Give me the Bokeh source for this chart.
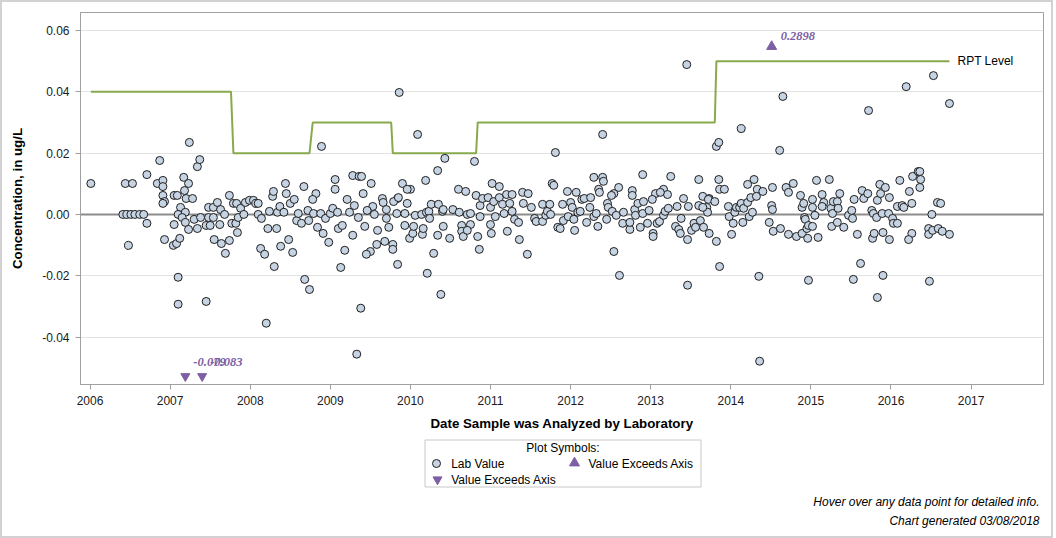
import numpy as np
from bokeh.plotting import figure
from bokeh.models import Range1d, FixedTicker, PrintfTickFormatter, Span
from bokeh.layouts import column
from bokeh.embed import file_html
from bokeh.resources import INLINE
from bokeh.core.properties import value

# ---------------------------------------------------------------- data
# Lab results (decimal year of analysis, concentration in ug/L)
dates_2006_2009 = [
    2006.01, 2006.41, 2006.46, 2006.51, 2006.56, 2006.62, 2006.67, 2006.44, 2006.53, 2006.48,
    2006.71, 2006.71, 2006.87, 2006.84, 2006.91, 2006.91, 2006.91, 2006.93, 2006.91, 2007.05,
    2007.09, 2007.17, 2007.18, 2007.23, 2007.24, 2007.34, 2007.37, 2007.20, 2007.28, 2007.13,
    2007.10, 2007.19, 2007.05, 2007.15, 2007.19, 2007.23, 2007.30, 2007.34, 2007.38, 2007.48,
    2007.45, 2007.50, 2007.54, 2007.48, 2007.54, 2007.59, 2007.55, 2007.63, 2007.64, 2007.69,
    2007.74, 2007.62, 2007.68, 2007.74, 2007.79, 2007.83, 2007.77, 2007.82, 2007.84, 2007.85,
    2007.88, 2007.92, 2007.94, 2007.99, 2008.04, 2008.07, 2008.10, 2006.93, 2007.04, 2007.08,
    2007.12, 2007.10, 2007.10, 2007.45, 2008.20, 2008.10, 2008.14, 2008.13, 2008.18, 2008.22,
    2008.24, 2008.28, 2008.29, 2008.30, 2008.33, 2008.34, 2008.37, 2008.38, 2008.42, 2008.44,
    2008.45, 2008.48, 2008.50, 2008.53, 2008.55, 2008.58, 2008.60, 2008.64, 2008.67, 2008.68,
    2008.72, 2008.74, 2008.73, 2008.79, 2008.82, 2008.78, 2008.84, 2008.88, 2008.91, 2008.94,
    2008.98, 2009.00, 2009.03, 2009.06, 2009.06, 2009.09, 2009.10, 2009.13, 2009.15, 2009.18,
    2009.21, 2009.24, 2009.28, 2009.30, 2009.35, 2009.33, 2009.38, 2008.89, 2009.28, 2009.36,
]
conc_2006_2009 = [
    0.0101, 0, 0, 0, 0, 0, 0, 0.0101, 0.0101, -0.0101,
    -0.0029, 0.0130, 0.0176, 0.0101, 0.0111, 0.0091, 0.0062, 0.0042, 0.0036, 0.0062,
    0.0062, 0.0121, 0.0078, 0.0101, 0.0235, 0.0156, 0.0179, 0.0052, 0.0052, 0.0023,
    0, 0.0007, -0.0033, -0.0010, -0.0026, -0.0049, -0.0016, -0.0046, -0.0010, -0.0010,
    -0.0036, -0.0036, -0.0010, 0.0023, 0.0023, 0.0039, -0.0082, 0.0016, -0.0095, -0.0127,
    -0.0085, -0.0033, 0, 0.0062, 0.0036, 0.0036, -0.0029, -0.0029, -0.0059, -0.0010,
    0.0020, 0, 0.0039, 0.0046, 0.0046, 0.0036, 0.0036, -0.0082, -0.0101, -0.0095,
    -0.0078, -0.0205, -0.0293, -0.0284, -0.0355, 0, -0.0013, -0.0111, -0.0130, -0.0046,
    0.0010, 0.0059, 0.0075, -0.0170, -0.0046, 0.0007, 0.0026, -0.0104, 0.0007, 0.0101,
    0.0068, -0.0082, 0.0036, -0.0124, 0.0049, -0.0020, 0.0003, -0.0029, 0.0091, -0.0212,
    0.0013, -0.0245, -0.0020, 0.0003, 0.0068, 0.0049, -0.0042, 0.0003, -0.0062, -0.0013,
    -0.0091, 0.0003, 0.0020, 0.0082, 0.0114, 0.0007, -0.0046, -0.0173, -0.0036, -0.0117,
    0.0049, 0.0007, -0.0068, 0.0029, -0.0010, -0.0456, -0.0306, 0.0222, 0.0127, 0.0124,
]

dates_2009_2013 = [
    2009.86, 2010.09, 2010.43, 2010.34, 2010.19, 2009.90, 2010.00, 2009.96, 2009.51, 2009.39,
    2009.41, 2009.65, 2009.84, 2010.80, 2010.60, 2010.69, 2010.82, 2011.02, 2011.11, 2011.20,
    2011.27, 2011.40, 2011.47, 2011.77, 2011.79, 2011.81, 2011.96, 2012.07, 2012.29, 2012.40,
    2012.41, 2012.35, 2012.36, 2012.40, 2012.60, 2012.54, 2012.51, 2012.77, 2012.90, 2013.16,
    2013.06, 2013.21, 2013.25, 2013.45, 2013.60, 2013.65, 2013.82, 2013.85, 2013.85, 2013.41,
    2013.73, 2009.66, 2009.53, 2009.55, 2009.46, 2009.43, 2009.59, 2009.58, 2009.50, 2009.45,
    2009.70, 2009.70, 2009.73, 2009.68, 2009.78, 2009.78, 2009.79, 2009.85, 2009.83, 2009.84,
    2009.93, 2009.96, 2009.93, 2009.99, 2010.03, 2010.04, 2010.06, 2010.14, 2010.15, 2010.16,
    2010.20, 2010.23, 2010.24, 2010.26, 2010.35, 2010.34, 2010.29, 2010.21, 2010.38, 2010.40,
    2010.41, 2010.41, 2010.49, 2010.53, 2010.61, 2010.64, 2010.64, 2010.66, 2010.71, 2010.75,
    2010.75, 2010.71, 2010.84, 2010.86, 2010.87, 2010.87, 2010.90, 2010.97, 2011.00, 2011.00,
    2011.01, 2011.04, 2011.06, 2011.11, 2011.15, 2011.17, 2011.21, 2011.24, 2011.27, 2011.30,
    2011.35, 2011.36, 2011.41, 2011.46, 2011.51, 2011.55, 2011.57, 2011.65, 2011.65, 2011.69,
    2011.71, 2011.74, 2011.75, 2011.84, 2011.87, 2011.90, 2011.91, 2011.97, 2012.00, 2012.02,
    2012.04, 2012.05, 2012.09, 2012.12, 2012.14, 2012.17, 2012.20, 2012.24, 2012.25, 2012.29,
    2012.32, 2012.34, 2012.45, 2012.46, 2012.47, 2012.52, 2012.54, 2012.57, 2012.61, 2012.65,
    2012.66, 2012.74, 2012.74, 2012.77, 2012.80, 2012.81, 2012.84, 2012.87, 2012.90, 2012.91,
    2012.96, 2012.98, 2013.02, 2013.03, 2013.03, 2013.08, 2013.11, 2013.12, 2013.16, 2013.18,
    2013.22, 2013.31, 2013.33, 2013.35, 2013.37, 2013.38, 2013.46, 2013.46, 2013.47, 2013.51,
    2013.54, 2013.56, 2013.60, 2013.62, 2013.66, 2013.70, 2013.71, 2013.72, 2013.73, 2013.80,
    2013.82, 2013.86, 2013.86,
]
conc_2009_2013 = [
    0.0398, 0.0261, 0.0183, 0.0143, 0.0111, 0.0101, 0.0082, 0.0082, 0.0101, 0.0124,
    0.0068, 0.0052, 0.0052, 0.0173, 0.0082, 0.0075, 0.0062, 0.0101, 0.0091, 0.0065,
    0.0065, 0.0072, 0.0068, 0.0101, 0.0095, 0.0202, 0.0075, 0.0072, 0.0121, 0.0121,
    0.0108, 0.0082, 0.0072, 0.0261, 0.0088, 0.0068, 0.0062, 0.0078, 0.0130, 0.0082,
    0.0068, 0.0065, 0.0124, 0.0489, 0.0114, 0.0059, 0.0222, 0.0235, 0.0114, 0.0052,
    0.0052, 0.0039, 0.0026, 0, 0.0013, -0.0039, -0.0052, -0.0098, -0.0121, -0.0130,
    0.0016, -0.0013, -0.0042, -0.0088, -0.0098, -0.0114, 0.0042, 0.0055, 0.0003, -0.0163,
    0.0003, 0.0036, -0.0036, -0.0078, -0.0062, -0.0039, -0.0003, 0, -0.0065, -0.0046,
    0.0007, 0.0010, -0.0013, 0.0033, 0.0033, -0.0068, -0.0127, -0.0192, -0.0261, 0.0010,
    0.0016, -0.0039, -0.0078, 0.0016, 0.0007, -0.0036, -0.0055, -0.0072, 0, 0.0003,
    -0.0033, -0.0052, -0.0072, -0.0114, -0.0007, 0.0029, 0.0052, 0.0055, 0.0023, -0.0033,
    -0.0062, 0.0042, -0.0007, 0.0055, 0.0033, 0.0003, -0.0055, 0.0036, 0.0010, -0.0016,
    -0.0026, -0.0082, 0.0036, -0.0130, 0.0023, -0.0013, -0.0023, 0.0033, -0.0023, -0.0003,
    0.0010, 0.0033, 0, -0.0042, -0.0046, 0.0033, -0.0020, -0.0007, 0.0039, 0.0023,
    -0.0016, -0.0052, 0.0007, 0.0010, 0.0049, 0.0052, -0.0026, 0.0023, 0.0055, -0.0007,
    0.0003, -0.0039, -0.0016, 0.0036, 0.0023, 0.0010, -0.0121, -0.0003, -0.0199, -0.0029,
    0.0007, -0.0049, -0.0026, 0.0062, 0.0016, -0.0003, 0.0036, -0.0042, 0.0003, 0.0042,
    -0.0029, 0.0013, 0.0049, -0.0062, -0.0072, -0.0029, -0.0023, 0.0072, -0.0003, 0.0010,
    0.0020, -0.0039, 0.0026, -0.0049, -0.0062, -0.0013, -0.0082, -0.0231, 0.0026, -0.0052,
    -0.0029, -0.0042, 0.0029, -0.0020, -0.0042, 0.0023, 0.0007, 0.0049, -0.0062, 0.0042,
    -0.0088, -0.0170, 0.0082,
]

dates_2013_2016 = [
    2014.29, 2014.21, 2013.92, 2014.33, 2014.40, 2014.52, 2014.69, 2014.72, 2014.78, 2015.07,
    2015.23, 2013.65, 2013.97, 2013.98, 2014.01, 2014.03, 2014.05, 2014.07, 2014.11, 2014.13,
    2014.16, 2014.15, 2014.21, 2014.25, 2014.23, 2014.27, 2014.32, 2014.35, 2014.36, 2014.48,
    2014.51, 2014.52, 2014.53, 2014.62, 2014.72, 2014.82, 2014.87, 2014.89, 2014.91, 2014.89,
    2014.92, 2014.93, 2014.95, 2014.96, 2014.97, 2015.02, 2015.02, 2015.02, 2015.05, 2015.09,
    2014.97, 2015.14, 2015.16, 2015.14, 2015.25, 2015.27, 2015.26, 2015.28, 2015.33, 2015.34,
    2015.36, 2015.33, 2015.41, 2015.47, 2015.51, 2015.52, 2015.53, 2015.54, 2015.58, 2015.62,
    2015.64, 2015.66, 2015.71, 2015.76, 2015.78, 2015.82, 2015.83, 2015.86, 2015.87, 2015.89,
    2015.90, 2015.83, 2015.77, 2015.79, 2015.90, 2015.93, 2015.97, 2015.98, 2015.98, 2016.02,
    2016.03, 2016.08, 2016.08, 2016.11, 2016.14, 2016.16, 2016.23, 2016.26, 2016.26, 2016.22,
    2016.27, 2016.34, 2016.36, 2016.37, 2016.36, 2016.48, 2016.47, 2016.47, 2016.51, 2016.52,
    2016.58, 2016.62, 2016.59, 2016.64, 2016.73, 2014.13, 2014.65, 2015.72, 2016.19, 2016.53,
    2016.73, 2014.61,
]
conc_2013_2016 = [
    0.0114, 0.0098, 0.0082, 0.0082, 0.0075, 0.0088, 0.0088, 0.0072, 0.0101, 0.0111,
    0.0114, 0.0023, 0.0026, -0.0007, -0.0065, -0.0029, 0.0007, 0.0023, 0.0023, 0.0036,
    0.0020, -0.0026, 0.0039, 0.0055, -0.0007, 0.0007, 0.0059, -0.0202, -0.0479, -0.0026,
    0.0029, 0.0016, -0.0055, -0.0046, -0.0065, -0.0072, 0.0062, 0.0023, 0.0036, -0.0062,
    -0.0010, -0.0016, -0.0046, -0.0078, -0.0036, 0.0049, 0.0023, -0.0039, -0.0003, -0.0075,
    -0.0215, 0.0065, 0.0039, 0.0026, 0.0020, 0.0003, -0.0039, 0.0042, 0.0042, 0.0020,
    0.0068, -0.0026, -0.0042, -0.0003, 0.0013, -0.0013, -0.0212, 0.0049, -0.0065, -0.0160,
    0.0078, 0.0052, 0.0068, 0.0013, 0.0003, -0.0010, 0.0046, 0.0098, 0.0068, 0.0003,
    -0.0199, -0.0271, -0.0078, -0.0062, -0.0059, 0.0088, 0.0003, 0.0055, -0.0082, -0.0013,
    -0.0029, -0.0029, 0.0026, 0.0111, 0.0029, 0.0023, 0.0075, 0.0036, -0.0062, -0.0082,
    0.0124, 0.0140, 0.0140, 0.0114, 0.0088, -0.0218, -0.0046, -0.0065, 0, -0.0052,
    0.0039, 0.0036, -0.0046, -0.0055, -0.0065, 0.0280, 0.0385, 0.0339, 0.0417, 0.0453,
    0.0362, 0.0209,
]

# Reporting level (step changes over time)
rpt_dates = [2006.01, 2007.76, 2007.79, 2008.74, 2008.78, 2009.76,
             2009.78, 2010.82, 2010.84, 2013.80, 2013.82, 2016.73]
rpt_levels = [0.04, 0.04, 0.02, 0.02, 0.03, 0.03,
              0.02, 0.02, 0.03, 0.03, 0.05, 0.05]

# Results lying outside the plotted concentration range
high_dates = [2014.51]
high_values = [0.2898]
low_dates = [2007.19, 2007.40]
low_values = [-0.079, -0.083]

year_ticks = list(range(2006, 2018))
conc_ticks = [-0.04, -0.02, 0.0, 0.02, 0.04, 0.06]

# ---------------------------------------------------------------- style
SANS = "Liberation Sans"
SERIF = "Liberation Serif"
POINT_FILL = "#c6d3e3"
POINT_EDGE = "#1e1e1e"
RPT_GREEN = "#88a94c"
PURPLE = "#7d5fa3"
AXIS_GREY = "#a0a0a0"

Y_LO, Y_HI = -0.0555, 0.0659
X_LO, X_HI = 2005.881, 2017.904
HI_MARK_Y = 0.0548    # where off-scale highs are flagged
LO_MARK_Y = -0.0528   # where off-scale lows are flagged

W = 1049
H_MAIN = 434
H_FOOT = 100
BORDER_L, BORDER_R = 78, 8

dates = np.array(dates_2006_2009 + dates_2009_2013 + dates_2013_2016)
conc = np.array(conc_2006_2009 + conc_2009_2013 + conc_2013_2016)

# ---------------------------------------------------------------- main plot
p = figure(width=W, height=H_MAIN, output_backend="svg", toolbar_location=None,
           x_range=Range1d(X_LO, X_HI), y_range=Range1d(Y_LO, Y_HI),
           min_border_left=BORDER_L, min_border_right=BORDER_R, min_border_top=10,
           min_border_bottom=52)
p.background_fill_color = "white"
p.border_fill_color = "white"
p.outline_line_color = AXIS_GREY
p.outline_line_width = 1

p.xgrid.visible = False
p.ygrid.grid_line_color = "#e3e3e3"
p.ygrid.ticker = FixedTicker(ticks=conc_ticks)

p.xaxis.ticker = FixedTicker(ticks=year_ticks)
p.xaxis.formatter = PrintfTickFormatter(format="%d")
p.yaxis.ticker = FixedTicker(ticks=conc_ticks)
p.yaxis.formatter = PrintfTickFormatter(format="%.2f")
p.xaxis.axis_label = "Date Sample was Analyzed by Laboratory"
p.yaxis.axis_label = "Concentration, in ug/L"

for ax in (p.xaxis[0], p.yaxis[0]):
    ax.axis_line_color = AXIS_GREY
    ax.major_tick_line_color = AXIS_GREY
    ax.major_tick_out = 5
    ax.major_tick_in = 0
    ax.minor_tick_line_color = None
    ax.major_label_standoff = 6
    ax.major_label_text_font = SANS
    ax.major_label_text_font_size = "12px"
    ax.major_label_text_color = "#1a1a1a"
    ax.axis_label_text_font = SANS
    ax.axis_label_text_font_style = "bold"
    ax.axis_label_text_font_size = "13.3px"
    ax.axis_label_text_color = "black"
p.xaxis.axis_label_standoff = 8
p.yaxis.axis_label_standoff = 14

# zero reference
p.add_layout(Span(location=0, dimension="width", line_color="#8c8c8c",
                  line_width=2, level="underlay"))

# reporting level step line and its label
p.line(rpt_dates, rpt_levels, line_color=RPT_GREEN, line_width=2)
p.text(x=[rpt_dates[-1]], y=[rpt_levels[-1]], text=["RPT Level"], x_offset=8,
       text_baseline="middle", text_align="left", text_font=value(SANS),
       text_font_size="12px", text_color="black")

# lab values
p.scatter(dates, conc, marker="circle", size=8, fill_color=POINT_FILL,
          line_color=POINT_EDGE, line_width=1)

# off-scale results, flagged at the edge with their value
hi_y = [HI_MARK_Y for _ in high_values]
lo_y = [LO_MARK_Y for _ in low_values]
p.scatter(high_dates, hi_y, marker="triangle", size=10,
          fill_color=PURPLE, line_color=PURPLE)
p.scatter(low_dates, lo_y, marker="inverted_triangle", size=9,
          fill_color=PURPLE, line_color=PURPLE)
label_style = dict(text_baseline="middle", text_align="left",
                   text_font=value(SERIF), text_font_style="bold italic",
                   text_font_size="12.5px", text_color=PURPLE)
p.text(x=high_dates, y=hi_y, text=[f"{v:g}" for v in high_values],
       x_offset=9, y_offset=-11, **label_style)
p.text(x=low_dates, y=lo_y, text=[f"{v:g}" for v in low_values],
       x_offset=8, y_offset=-14, **label_style)

# ---------------------------------------------------------------- legend + notes
# pixel-space panel; its frame lines up with the main plot's frame
f = figure(width=W, height=H_FOOT, output_backend="svg", toolbar_location=None,
           x_range=Range1d(BORDER_L, W - BORDER_R), y_range=Range1d(H_FOOT, 0),
           x_axis_type=None, y_axis_type=None,
           min_border_left=BORDER_L, min_border_right=BORDER_R,
           min_border_top=0, min_border_bottom=0)
f.outline_line_color = None
f.grid.visible = False
f.background_fill_color = "white"
f.border_fill_color = "white"

f.quad(left=[422.5], right=[698.5], top=[3.5], bottom=[50.5],
       fill_color=None, line_color="#c8c8c8", line_width=1)
txt = dict(text_baseline="middle", text_font=value(SANS),
           text_font_size="12px", text_color="black")
f.text(x=[560.5], y=[11], text=["Plot Symbols:"], text_align="center", **txt)
f.scatter(x=[434], y=[27], marker="circle", size=8, fill_color=POINT_FILL,
          line_color=POINT_EDGE, line_width=1)
f.scatter(x=[572], y=[26.5], marker="triangle", size=10,
          fill_color=PURPLE, line_color=PURPLE)
f.scatter(x=[435], y=[43], marker="inverted_triangle", size=9,
          fill_color=PURPLE, line_color=PURPLE)
f.text(x=[448.7, 586, 448.7], y=[27, 27, 43],
       text=["Lab Value", "Value Exceeds Axis", "Value Exceeds Axis"],
       text_align="left", **txt)

note = dict(text_baseline="middle", text_align="right", text_font=value(SANS),
            text_font_style="italic", text_font_size="12px", text_color="black")
f.text(x=[1037, 1037], y=[65, 84],
       text=["Hover over any data point for detailed info.",
             "Chart generated 03/08/2018"], **note)

layout = column(p, f, spacing=0, styles={"border": "2px solid #d2d2d2"})

open("out.html", "w").write(file_html(layout, INLINE))
